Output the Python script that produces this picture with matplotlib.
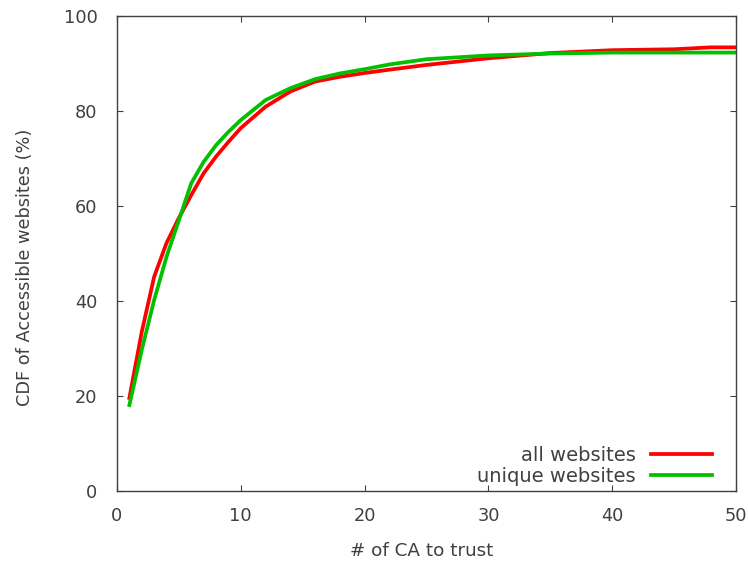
import matplotlib
matplotlib.use("Agg")
import matplotlib.pyplot as plt

x_vals = [1, 2, 3, 4, 5, 6, 7, 8, 9, 10, 12, 14, 16, 18, 20, 22, 25, 30, 35, 40, 45, 48, 50]
all_websites = [19.6, 33.5, 45.1, 52.2, 57.5, 62.3, 66.9, 70.4, 73.5, 76.4, 80.9, 84.1, 86.2, 87.2, 88.0, 88.7, 89.7, 91.1, 92.2, 92.8, 93.0, 93.4, 93.4]
unique_websites = [18.1, 29.7, 40.2, 49.3, 57.0, 64.8, 69.3, 72.8, 75.6, 78.1, 82.3, 84.8, 86.7, 87.9, 88.8, 89.8, 90.9, 91.7, 92.1, 92.3, 92.3, 92.3, 92.3]

x_ticks = [0, 10, 20, 30, 40, 50]
y_ticks = [0, 20, 40, 60, 80, 100]

TXT = "#404040"
FS = 12.8

fig = plt.figure(figsize=(7.48, 5.61), dpi=100)
ax = fig.add_axes([117/748, 1-491/561, (736-117)/748, (491-16)/561])

ax.plot(x_vals, all_websites, color="#ff0000", lw=2.7, label="all websites", solid_joinstyle="miter")
ax.plot(x_vals, unique_websites, color="#00c000", lw=2.7, label="unique websites", solid_joinstyle="miter")

ax.set_xlim(0, 50)
ax.set_ylim(0, 100)
ax.set_xticks(x_ticks)
ax.set_yticks(y_ticks)
ax.tick_params(direction="in", length=4.5, width=0.8, color=TXT, labelcolor=TXT,
               labelsize=FS, top=True, right=True)
ax.tick_params(axis="y", pad=14)
ax.tick_params(axis="x", pad=11.5)
for s in ax.spines.values():
    s.set_color(TXT)
    s.set_linewidth(1.0)

ax.set_xlabel("# of CA to trust", fontsize=13.2, color=TXT, labelpad=12, x=0.492)
ax.set_ylabel("CDF of Accessible websites (%)", fontsize=FS, color=TXT, labelpad=21.5, y=0.4716)

leg = ax.legend(loc="lower right", bbox_to_anchor=(712/748, 1-486/561), bbox_transform=fig.transFigure,
                frameon=False, markerfirst=False, fontsize=14, handlelength=3.14,
                handletextpad=0.77, labelspacing=0.1, borderpad=0, borderaxespad=0)
for t in leg.get_texts():
    t.set_color(TXT)
    t.set_ha("right")

fig.savefig("out.png", dpi=100)
